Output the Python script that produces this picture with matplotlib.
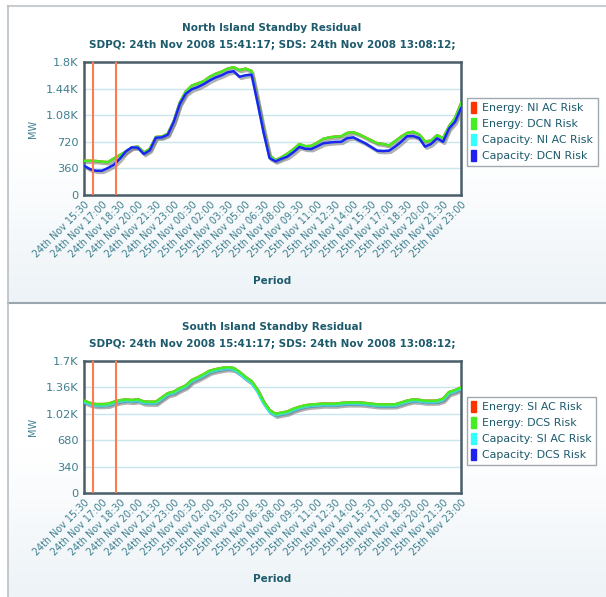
import numpy as np
import matplotlib
matplotlib.use("Agg")
import matplotlib.pyplot as plt
import matplotlib.patheffects as pe
from matplotlib.patches import Patch

# ---------------- data ----------------
tick_labels = ["24th Nov 15:30", "24th Nov 17:00", "24th Nov 18:30", "24th Nov 20:00",
               "24th Nov 21:30", "24th Nov 23:00", "25th Nov 00:30", "25th Nov 02:00",
               "25th Nov 03:30", "25th Nov 05:00", "25th Nov 06:30", "25th Nov 08:00",
               "25th Nov 09:30", "25th Nov 11:00", "25th Nov 12:30", "25th Nov 14:00",
               "25th Nov 15:30", "25th Nov 17:00", "25th Nov 18:30", "25th Nov 20:00",
               "25th Nov 21:30", "25th Nov 23:00"]

ni_energy_dcn = [463, 463, 460, 450, 445, 495, 540, 590, 645, 655, 575, 625, 785, 790, 830, 1000,
                 1250, 1400, 1480, 1510, 1540, 1600, 1640, 1670, 1710, 1730, 1690, 1710, 1680, 1300,
                 900, 540, 470, 510, 560, 620, 690, 660, 665, 710, 760, 780, 790, 795, 840, 850,
                 820, 780, 740, 700, 690, 670, 730, 790, 840, 855, 820, 725, 735, 810, 770, 930,
                 1040, 1240]
ni_capacity_dcn = [396, 350, 328, 328, 365, 410, 490, 590, 645, 640, 555, 605, 775, 780, 815, 990,
                   1230, 1370, 1430, 1460, 1500, 1550, 1590, 1620, 1660, 1675, 1600, 1620, 1630, 1250,
                   850, 500, 455, 490, 520, 580, 650, 625, 622, 660, 700, 710, 718, 720, 770, 780,
                   740, 700, 650, 600, 595, 600, 655, 720, 795, 798, 770, 655, 690, 767, 720, 900,
                   990, 1175]
ni_energy_ac = ni_energy_dcn
ni_capacity_ac = ni_capacity_dcn

si_energy_dcs = [1190, 1160, 1145, 1145, 1148, 1175, 1195, 1205, 1197, 1208, 1178, 1175, 1175, 1230,
                 1285, 1305, 1350, 1385, 1455, 1490, 1530, 1575, 1595, 1610, 1620, 1610, 1560, 1495,
                 1440, 1330, 1180, 1070, 1020, 1035, 1050, 1085, 1110, 1130, 1140, 1145, 1152, 1150,
                 1150, 1160, 1166, 1166, 1166, 1160, 1150, 1142, 1140, 1140, 1142, 1165, 1190, 1205,
                 1200, 1188, 1188, 1190, 1215, 1300, 1325, 1360]
si_capacity_ac = [1168, 1138, 1122, 1122, 1125, 1152, 1172, 1182, 1175, 1185, 1155, 1152, 1152, 1207,
                  1262, 1282, 1327, 1362, 1432, 1467, 1507, 1552, 1572, 1587, 1597, 1587, 1537, 1472,
                  1417, 1307, 1157, 1047, 997, 1012, 1027, 1062, 1087, 1107, 1117, 1122, 1129, 1127,
                  1127, 1137, 1143, 1143, 1143, 1137, 1127, 1119, 1117, 1117, 1119, 1142, 1167, 1182,
                  1177, 1165, 1165, 1167, 1192, 1277, 1302, 1337]
si_energy_ac = si_energy_dcs
si_capacity_dcs = si_capacity_ac

marker_periods = [1.5, 5.4]

# ---------------- style ----------------
W, H = 606, 597
fig = plt.figure(figsize=(W / 100, H / 100), dpi=100)
plt.rcParams['font.family'] = ['DejaVu Sans']

title_col = "#1d5a6c"
tick_col = "#3f7f8f"
spine_col = "#4a5d68"
grid_col = "#c9e6ee"
c_red, c_green, c_cyan, c_blue = "#ff3300", "#44ee22", "#33ffff", "#2222ee"

def fx(px):
    return px / W

def fy(py):
    return 1 - py / H

# background gradient panels
bg = fig.add_axes([0, 0, 1, 1], zorder=-10)
bg.set_xlim(0, W)
bg.set_ylim(H, 0)
bg.axis("off")
cmap = matplotlib.colors.LinearSegmentedColormap.from_list("g", ["#ffffff", "#ffffff", "#edf3f7"])
for (y0, y1) in [(6, 303), (304, 597)]:
    grad = np.linspace(0, 1, 100).reshape(-1, 1)
    bg.imshow(grad, extent=(8, W, y1, y0), cmap=cmap, aspect="auto", zorder=0)
bg.plot([8, W], [6, 6], color="#c8cdd2", lw=1.5, zorder=2)
bg.plot([8, W], [303, 303], color="#9aa6ae", lw=1.5, zorder=2)
bg.plot([8, 8], [6, H], color="#b8c0c6", lw=1.2, zorder=2)

shadow = [pe.SimpleLineShadow(offset=(1.2, -1.5), shadow_color="#777777", alpha=0.35), pe.Normal()]

def make_chart(top_px, bot_px, title, ymax, step, ytick_labels, series, legend_names, legend_top):
    ax = fig.add_axes([fx(84), fy(bot_px), fx(461) - fx(84), fy(top_px) - fy(bot_px)])
    x = np.arange(len(series[0][0]))
    for vals, col in series:
        ax.plot(x, vals, color=col, lw=1.8, path_effects=shadow, zorder=3, solid_joinstyle="round")
    for m in marker_periods:
        ax.axvline(m, color="#ff7a4d", lw=1.5, zorder=4)
    ax.set_xlim(0, len(x) - 1)
    ax.set_ylim(0, ymax)
    yt = np.arange(0, ymax + 1, step)
    ax.set_yticks(yt)
    ax.set_yticklabels(ytick_labels, fontsize=8.2, color=tick_col)
    ax.set_xticks(np.arange(0, len(x), 3))
    ax.set_xticklabels(tick_labels, rotation=45, ha="right", rotation_mode="anchor",
                       fontsize=6.9, color=tick_col)
    ax.tick_params(axis="x", length=0, pad=3)
    ax.tick_params(axis="y", length=0, pad=4)
    ax.grid(axis="y", color=grid_col, lw=1)
    ax.set_axisbelow(True)
    for s in ax.spines.values():
        s.set_color(spine_col)
        s.set_linewidth(1.8)
    ax.set_facecolor("white")
    fig.text(fx(272), fy(top_px - 34), title[0], ha="center", va="center", fontsize=7.5,
             fontweight="bold", color=title_col)
    fig.text(fx(272), fy(top_px - 17), title[1], ha="center", va="center", fontsize=7.5,
             fontweight="bold", color=title_col)
    fig.text(fx(33), fy((top_px + bot_px) / 2), "MW", rotation=90, ha="center", va="center",
             fontsize=7, color=tick_col)
    fig.text(fx(272), fy(bot_px + 86), "Period", ha="center", va="center", fontsize=7.5,
             fontweight="bold", color=title_col)
    handles = [Patch(facecolor=c, edgecolor=c) for c in [c_red, c_green, c_cyan, c_blue]]
    leg = fig.legend(handles, legend_names, loc="upper left",
                     bbox_to_anchor=(fx(467), fy(legend_top)), fontsize=7.9, frameon=True,
                     handlelength=0.45, handleheight=1.1, handletextpad=0.55, borderpad=0.4,
                     labelspacing=0.45, fancybox=False, borderaxespad=0)
    for t in leg.get_texts():
        t.set_color(title_col)
    leg.get_frame().set_edgecolor("#8a949c")
    leg.get_frame().set_linewidth(1.0)
    return ax

make_chart(62, 195,
           ["North Island Standby Residual", "SDPQ: 24th Nov 2008 15:41:17; SDS: 24th Nov 2008 13:08:12;"],
           1800, 360, ["0", "360", "720", "1.08K", "1.44K", "1.8K"],
           [(ni_energy_ac, c_red), (ni_energy_dcn, c_green), (ni_capacity_ac, c_cyan), (ni_capacity_dcn, c_blue)],
           ["Energy: NI AC Risk", "Energy: DCN Risk", "Capacity: NI AC Risk", "Capacity: DCN Risk"],
           98)

make_chart(361, 493,
           ["South Island Standby Residual", "SDPQ: 24th Nov 2008 15:41:17; SDS: 24th Nov 2008 13:08:12;"],
           1700, 340, ["0", "340", "680", "1.02K", "1.36K", "1.7K"],
           [(si_energy_ac, c_red), (si_capacity_dcs, c_blue), (si_capacity_ac, c_cyan), (si_energy_dcs, c_green)],
           ["Energy: SI AC Risk", "Energy: DCS Risk", "Capacity: SI AC Risk", "Capacity: DCS Risk"],
           397)

fig.savefig("out.png", dpi=100)
